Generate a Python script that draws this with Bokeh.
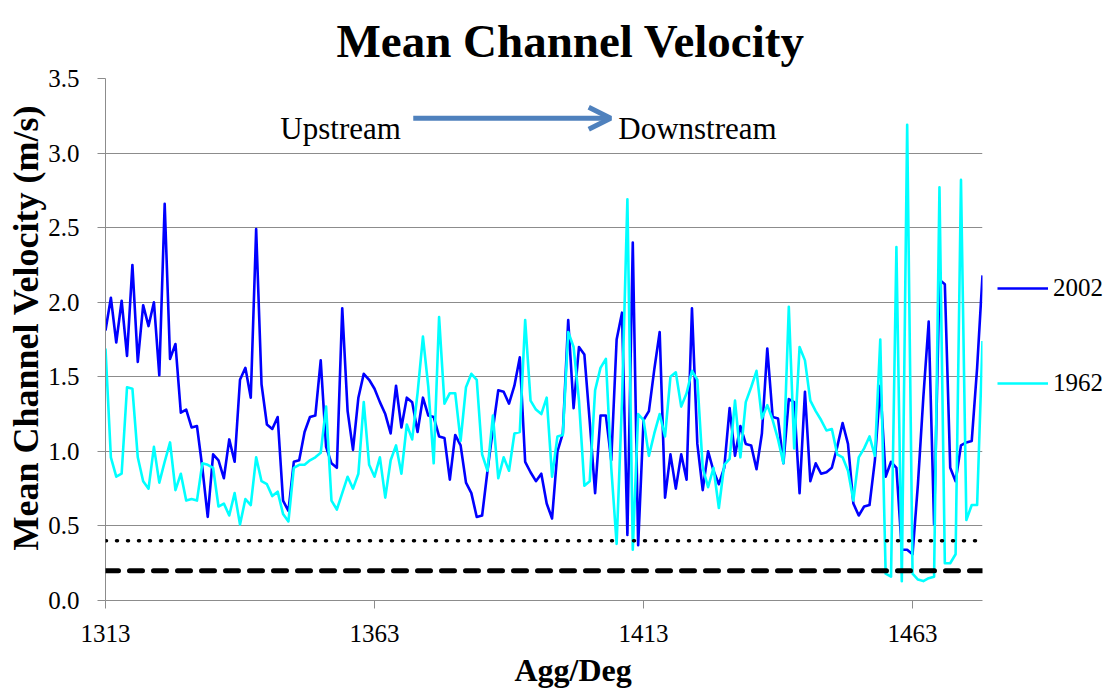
from bokeh.plotting import figure
from bokeh.models import (Range1d, Span, Label, Legend, LegendItem, Arrow,
                          OpenHead, FixedTicker, NumeralTickFormatter, Title)
from bokeh.embed import file_html
from bokeh.resources import INLINE

# ---------------- data ----------------
agg_deg = list(range(1313, 1477))

vel_2002 = [
    1.81, 2.03, 1.73, 2.01, 1.64, 2.25, 1.60, 1.98, 1.84, 2.00,
    1.51, 2.66, 1.62, 1.72, 1.26, 1.28, 1.16, 1.17, 0.89, 0.56,
    0.98, 0.94, 0.82, 1.08, 0.93, 1.48, 1.56, 1.36, 2.49, 1.45,
    1.18, 1.15, 1.23, 0.67, 0.60, 0.93, 0.94, 1.13, 1.23, 1.24,
    1.61, 1.03, 0.92, 0.89, 1.96, 1.27, 1.01, 1.36, 1.52, 1.48,
    1.42, 1.33, 1.25, 1.12, 1.44, 1.16, 1.36, 1.33, 1.13, 1.36,
    1.24, 1.23, 1.10, 1.09, 0.81, 1.11, 1.04, 0.79, 0.72, 0.56,
    0.57, 0.87, 1.15, 1.41, 1.40, 1.32, 1.44, 1.63, 0.93, 0.86,
    0.80, 0.85, 0.65, 0.55, 1.00, 1.12, 1.88, 1.29, 1.70, 1.65,
    1.20, 0.72, 1.24, 1.24, 0.94, 1.75, 1.93, 0.44, 2.40, 0.37,
    1.21, 1.27, 1.55, 1.80, 0.69, 0.98, 0.75, 0.98, 0.81, 1.96,
    1.05, 0.74, 1.00, 0.87, 0.78, 0.89, 1.29, 0.97, 1.17, 1.05,
    1.04, 0.88, 1.12, 1.69, 1.23, 1.22, 0.92, 1.35, 1.33, 0.72,
    1.40, 0.80, 0.92, 0.85, 0.86, 0.89, 1.03, 1.19, 1.05, 0.65,
    0.57, 0.63, 0.64, 0.94, 1.44, 0.83, 0.93, 0.89, 0.34, 0.34,
    0.31, 0.78, 1.36, 1.87, 0.51, 2.15, 2.12, 0.89, 0.80, 1.04,
    1.06, 1.07, 1.56, 2.18,
]

vel_1962 = [
    1.69, 0.96, 0.83, 0.85, 1.43, 1.42, 0.96, 0.80, 0.75, 1.03,
    0.79, 0.93, 1.06, 0.74, 0.85, 0.67, 0.68, 0.67, 0.92, 0.91,
    0.89, 0.63, 0.65, 0.57, 0.72, 0.51, 0.68, 0.64, 0.96, 0.80,
    0.78, 0.70, 0.73, 0.58, 0.53, 0.89, 0.91, 0.91, 0.94, 0.96,
    0.99, 1.30, 0.67, 0.61, 0.72, 0.83, 0.75, 0.85, 1.33, 0.91,
    0.83, 0.96, 0.69, 0.94, 1.04, 0.85, 1.18, 1.08, 1.39, 1.77,
    1.43, 0.92, 1.90, 1.32, 1.39, 1.39, 1.07, 1.43, 1.52, 1.48,
    0.98, 0.87, 1.24, 0.82, 0.96, 0.87, 1.12, 1.13, 1.88, 1.34,
    1.28, 1.25, 1.36, 0.83, 1.10, 1.11, 1.80, 1.70, 1.34, 0.77,
    0.80, 1.41, 1.56, 1.62, 0.89, 0.38, 1.34, 2.69, 0.34, 1.25,
    1.21, 0.97, 1.12, 1.25, 1.10, 1.50, 1.53, 1.30, 1.39, 1.54,
    1.48, 0.89, 0.76, 0.89, 0.62, 0.91, 0.95, 1.34, 0.96, 1.33,
    1.43, 1.54, 1.22, 1.31, 1.21, 1.08, 0.92, 1.97, 1.02, 1.70,
    1.61, 1.34, 1.27, 1.21, 1.14, 1.15, 0.98, 0.96, 0.87, 0.67,
    0.96, 1.02, 1.10, 0.97, 1.75, 0.18, 0.16, 2.37, 0.13, 3.19,
    0.18, 0.14, 0.13, 0.15, 0.16, 2.77, 0.25, 0.25, 0.31, 2.82,
    0.54, 0.64, 0.64, 1.74,
]

series_labels = ["2002", "1962"]
x_tick_values = [1313, 1363, 1413, 1463]
y_tick_values = [0.0, 0.5, 1.0, 1.5, 2.0, 2.5, 3.0, 3.5]
threshold_dotted = 0.4
threshold_dashed = 0.2

# ---------------- figure ----------------
SERIF = "Liberation Serif"
GRID = "#8C8C8C"

p = figure(frame_width=877, frame_height=522,
           x_range=Range1d(1313, 1476), y_range=Range1d(0, 3.5),
           output_backend="svg", toolbar_location=None,
           min_border_left=105, min_border_right=128,
           min_border_top=78, min_border_bottom=90)
p.outline_line_color = None
p.background_fill_color = "white"
p.border_fill_color = "white"

p.title.text = "Mean Channel Velocity"
p.title.text_font = SERIF
p.title.text_font_size = "47px"
p.title.text_font_style = "bold"
p.title.text_color = "black"
p.title.align = "left"
p.title.offset = 231
p.title.vertical_align = "top"
p.title.text_line_height = 0.7
p.title.standoff = 20

p.xgrid.visible = False
p.ygrid.ticker = FixedTicker(ticks=y_tick_values[1:])
p.ygrid.grid_line_color = GRID
p.ygrid.grid_line_width = 1

for ax in (p.xaxis[0], p.yaxis[0]):
    ax.axis_line_color = GRID
    ax.major_tick_line_color = GRID
    ax.major_tick_out = 8
    ax.major_tick_in = 0
    ax.minor_tick_line_color = None
    ax.major_label_text_font = SERIF
    ax.major_label_text_font_size = "25px"
    ax.major_label_text_color = "black"

p.xaxis.ticker = FixedTicker(ticks=x_tick_values)
p.xaxis.major_label_standoff = 16
p.yaxis.ticker = FixedTicker(ticks=y_tick_values)
p.yaxis.formatter = NumeralTickFormatter(format="0.0")
p.yaxis.major_label_standoff = 18

# axis titles as side-panel titles (placed precisely)
p.add_layout(Title(text="Mean Channel Velocity (m/s)", align="left",
                   offset=50, standoff=0, text_font=SERIF,
                   text_font_size="36px", text_font_style="bold",
                   text_color="black"), "left")
p.add_layout(Title(text="Agg/Deg", align="left", offset=409, standoff=10,
                   text_font=SERIF, text_font_size="32px",
                   text_font_style="bold", text_color="black"), "below")

# threshold lines
p.add_layout(Span(location=threshold_dotted, dimension="width",
                  line_color="black", line_width=3.5, line_dash="1 10",
                  line_cap="round"))
p.add_layout(Span(location=threshold_dashed, dimension="width",
                  line_color="black", line_width=5, line_dash="13 11",
                  line_cap="round"))

r2002 = p.line(agg_deg, vel_2002, line_color="#0000FF", line_width=2.6,
               line_join="round")
r1962 = p.line(agg_deg, vel_1962, line_color="#00FFFF", line_width=2.6,
               line_join="round")

legend = Legend(items=[LegendItem(label=series_labels[0], renderers=[r2002]),
                       LegendItem(label=series_labels[1], renderers=[r1962])],
                location=(15, 202), orientation="vertical",
                glyph_width=51, glyph_height=30, label_height=30,
                label_standoff=5, spacing=65, padding=0, margin=0,
                border_line_color=None, background_fill_alpha=0,
                label_text_font=SERIF, label_text_font_size="25px",
                label_text_color="black")
p.add_layout(legend, "right")

# flow direction annotation
ARROW = "#4F81BD"
p.add_layout(Arrow(x_start=1370.2, y_start=3.233, x_end=1406.9, y_end=3.233,
                   line_color=ARROW, line_width=5,
                   end=OpenHead(size=22, line_color=ARROW, line_width=5)))
p.add_layout(Label(x=1345.5, y=3.165, text="Upstream", text_font=SERIF,
                   text_font_size="31px", text_color="black",
                   text_baseline="alphabetic"))
p.add_layout(Label(x=1408.3, y=3.165, text="Downstream", text_font=SERIF,
                   text_font_size="31px", text_color="black",
                   text_baseline="alphabetic"))

open("out.html", "w").write(file_html(p, INLINE))
